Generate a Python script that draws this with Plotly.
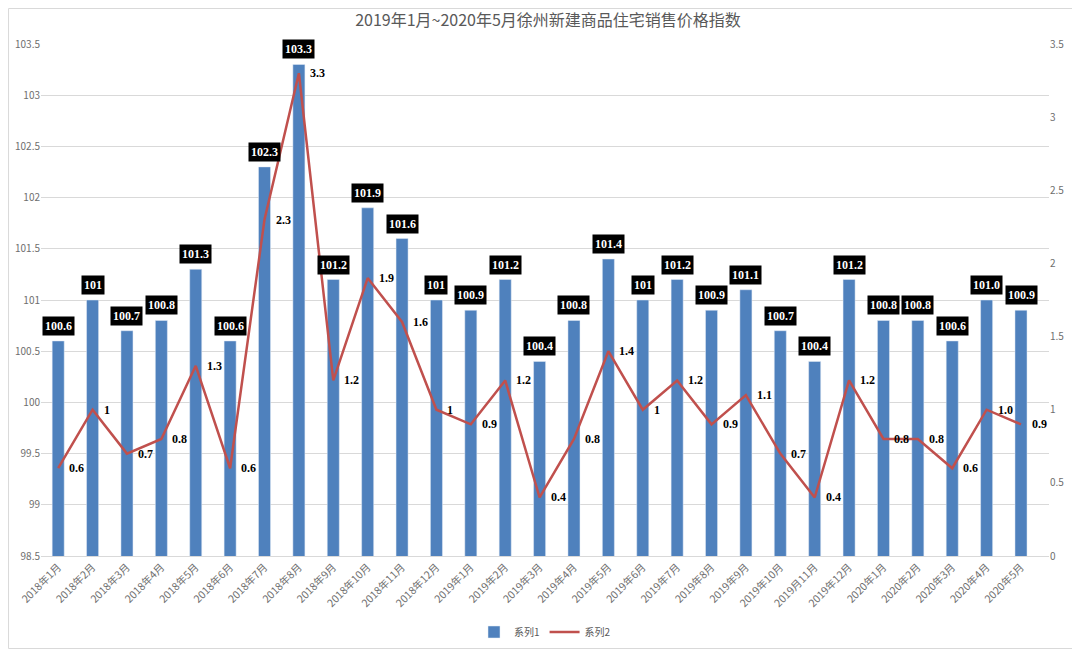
import plotly.graph_objects as go

categories = ["2018年1月", "2018年2月", "2018年3月", "2018年4月", "2018年5月", "2018年6月",
              "2018年7月", "2018年8月", "2018年9月", "2018年10月", "2018年11月", "2018年12月",
              "2019年1月", "2019年2月", "2019年3月", "2019年4月", "2019年5月", "2019年6月",
              "2019年7月", "2019年8月", "2019年9月", "2019年10月", "2019月11月", "2019年12月",
              "2020年1月", "2020年2月", "2020年3月", "2020年4月", "2020年5月"]
series1 = [100.6, 101, 100.7, 100.8, 101.3, 100.6, 102.3, 103.3, 101.2, 101.9, 101.6, 101,
           100.9, 101.2, 100.4, 100.8, 101.4, 101, 101.2, 100.9, 101.1, 100.7, 100.4, 101.2,
           100.8, 100.8, 100.6, 101.0, 100.9]
series1_labels = ["100.6", "101", "100.7", "100.8", "101.3", "100.6", "102.3", "103.3", "101.2",
                  "101.9", "101.6", "101", "100.9", "101.2", "100.4", "100.8", "101.4", "101",
                  "101.2", "100.9", "101.1", "100.7", "100.4", "101.2", "100.8", "100.8", "100.6",
                  "101.0", "100.9"]
series2 = [0.6, 1, 0.7, 0.8, 1.3, 0.6, 2.3, 3.3, 1.2, 1.9, 1.6, 1, 0.9, 1.2, 0.4, 0.8, 1.4, 1,
           1.2, 0.9, 1.1, 0.7, 0.4, 1.2, 0.8, 0.8, 0.6, 1.0, 0.9]
series2_labels = ["0.6", "1", "0.7", "0.8", "1.3", "0.6", "2.3", "3.3", "1.2", "1.9", "1.6", "1",
                  "0.9", "1.2", "0.4", "0.8", "1.4", "1", "1.2", "0.9", "1.1", "0.7", "0.4", "1.2",
                  "0.8", "0.8", "0.6", "1.0", "0.9"]

title = "2019年1月~2020年5月徐州新建商品住宅销售价格指数"
gray = "#595959"
cjk = "Noto Sans CJK SC"

fig = go.Figure()
fig.add_trace(go.Bar(x=categories, y=series1, name="系列1", marker=dict(color="#4F81BD"),
                     width=0.35, yaxis="y"))
fig.add_trace(go.Scatter(x=categories, y=series2, name="系列2", mode="lines",
                         line=dict(color="#C0504D", width=2.5), yaxis="y2"))

annotations = []
for c, v, t in zip(categories, series1, series1_labels):
    annotations.append(dict(x=c, y=v, xref="x", yref="y", text="<b>" + t + "</b>",
                            showarrow=False, yanchor="bottom", yshift=5,
                            font=dict(family="Liberation Serif", size=12, color="white"),
                            bgcolor="black", borderpad=2))
for c, v, t in zip(categories, series2, series2_labels):
    annotations.append(dict(x=c, y=v, xref="x", yref="y2", text="<b>" + t + "</b>",
                            showarrow=False, xanchor="left", yanchor="middle", xshift=9,
                            font=dict(family="Liberation Serif", size=12, color="black")))

fig.update_layout(
    width=1080, height=650,
    paper_bgcolor="white", plot_bgcolor="white",
    margin=dict(l=33, r=39, t=36, b=102, autoexpand=False),
    title=dict(text=title, x=0.5, xanchor="center", y=0.981, yanchor="middle",
               font=dict(family=cjk, size=16, color=gray)),
    bargap=0.65,
    xaxis=dict(type="category", tickangle=-45, tickfont=dict(family=cjk, size=10.5, color="#6e6e6e"),
               showgrid=False, showline=True, linecolor="#D9D9D9", ticks="", automargin=False),
    yaxis=dict(range=[98.5, 103.5], dtick=0.5, tick0=98.5, showgrid=True, gridcolor="#D9D9D9",
               tickfont=dict(family=cjk, size=10, color="#6e6e6e"), zeroline=False, ticks="",
               automargin=False),
    yaxis2=dict(range=[0, 3.5], dtick=0.5, tick0=0, overlaying="y", side="right", showgrid=False,
                tickfont=dict(family=cjk, size=10, color="#6e6e6e"), zeroline=False, ticks="",
                automargin=False),
    legend=dict(orientation="h", x=0.5, xanchor="center", y=0.04, yanchor="middle",
                yref="container", font=dict(family=cjk, size=10, color=gray)),
    annotations=annotations,
    showlegend=True,
    shapes=[dict(type="rect", xref="paper", yref="paper", x0=-0.0322, x1=1.0293,
                 y0=-0.1807, y1=1.0693, line=dict(color="#D9D9D9", width=1), layer="below")],
)

fig.write_html("out.html")
